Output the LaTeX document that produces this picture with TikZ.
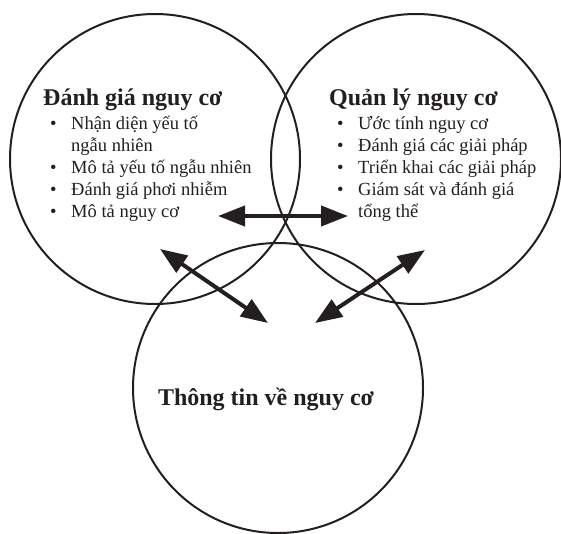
\documentclass[tikz,border=0pt]{standalone}
\usepackage{fontspec}
\setmainfont{Liberation Serif}
\usetikzlibrary{arrows.meta}

\definecolor{inkgray}{RGB}{35,31,32}
\newcommand{\bul}{\makebox[21pt][l]{\textbullet}}
\newcommand{\gap}{\hspace*{21pt}}

\tikzset{
  zone/.style={circle, draw=inkgray, line width=2pt, minimum size=290pt, inner sep=0pt},
  heading/.style={inner sep=0pt, text=inkgray, font=\fontsize{24}{28}\selectfont\bfseries},
  points/.style={anchor=base west, inner sep=0pt, align=left, text=inkgray, font=\fontsize{18.5}{22}\selectfont},
  link/.style={{Triangle[length=27pt,width=20pt]}-{Triangle[length=27pt,width=20pt]}, line width=4pt, draw=inkgray},
}

\begin{document}
\begin{tikzpicture}[x=1pt, y=-1pt]
    \useasboundingbox (0,0) rectangle (561,533);

    % Ba vòng tròn
    \node[zone] (assess) at (155,159) {};
    \node[zone] (manage) at (416,159) {};
    \node[zone] (inform) at (278,388) {};

    % Đánh giá nguy cơ (danh sách đặt theo dòng cuối)
    \node[heading, anchor=base west] (assessT) at (43,105) {Đánh giá nguy cơ};
    \node[points] (assessL) at (50,217) {\bul Nhận diện yếu tố\\
        \gap ngẫu nhiên\\
        \bul Mô tả yếu tố ngẫu nhiên\\
        \bul Đánh giá phơi nhiễm\\
        \bul Mô tả nguy cơ};

    % Quản lý nguy cơ
    \node[heading, anchor=base west] (manageT) at (329,105) {Quản lý nguy cơ};
    \node[points] (manageL) at (337,217) {\bul Ước tính nguy cơ\\
        \bul Đánh giá các giải pháp\\
        \bul Triển khai các giải pháp\\
        \bul Giám sát và đánh giá\\
        \gap tổng thể};

    % Thông tin về nguy cơ
    \node[heading, anchor=base] (informT) at (266,405) {Thông tin về nguy cơ};

    % Đầu mũi tên
    \coordinate (hL) at (218,216);
    \coordinate (hR) at (348,216);
    \coordinate (dA) at (160,249);
    \coordinate (dB) at (268,323);
    \coordinate (dC) at (315,323);
    \coordinate (dD) at (425,250);

    % Mũi tên hai chiều
    \draw[link] (hL) -- (hR);
    \draw[link] (dA) -- (dB);
    \draw[link] (dC) -- (dD);
\end{tikzpicture}
\end{document}
